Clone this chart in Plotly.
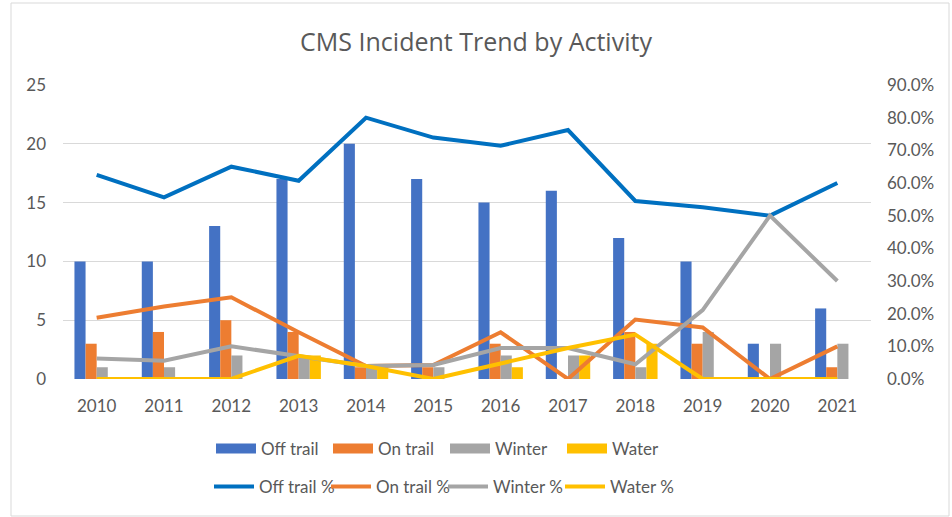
import plotly.graph_objects as go

years = ["2010", "2011", "2012", "2013", "2014", "2015", "2016", "2017", "2018", "2019", "2020", "2021"]
off_trail = [10, 10, 13, 17, 20, 17, 15, 16, 12, 10, 3, 6]
on_trail = [3, 4, 5, 4, 1, 1, 3, 0, 4, 3, 0, 1]
winter = [1, 1, 2, 2, 1, 1, 2, 2, 1, 4, 3, 3]
water = [0, 0, 0, 2, 1, 0, 1, 2, 3, 0, 0, 0]
off_trail_pct = [0.625, 0.556, 0.65, 0.607, 0.80, 0.739, 0.714, 0.762, 0.545, 0.526, 0.50, 0.60]
on_trail_pct = [0.1875, 0.222, 0.25, 0.143, 0.04, 0.043, 0.143, 0.0, 0.182, 0.158, 0.0, 0.10]
winter_pct = [0.0625, 0.056, 0.10, 0.071, 0.04, 0.043, 0.095, 0.095, 0.045, 0.211, 0.50, 0.30]
water_pct = [0.0, 0.0, 0.0, 0.071, 0.04, 0.0, 0.048, 0.095, 0.136, 0.0, 0.0, 0.0]

bar_names = ["Off trail", "On trail", "Winter", "Water"]
bar_colors = ["#4472C4", "#ED7D31", "#A5A5A5", "#FFC000"]
line_names = ["Off trail %", "On trail %", "Winter %", "Water %"]
line_colors = ["#0070C0", "#ED7D31", "#A5A5A5", "#FFC000"]

W, H = 952, 517
L, R, T, B = 63, 81, 85, 138
PW, PH = W - L - R, H - T - B

def px_x(p):
    return (p - L) / PW

def px_y(p):
    return (H - B - p) / PH

FONT = "Lato"
GREY = "#595959"

fig = go.Figure()
for name, vals, col in zip(bar_names, [off_trail, on_trail, winter, water], bar_colors):
    fig.add_trace(go.Bar(x=years, y=vals, name=name, marker=dict(color=col, line=dict(width=0)),
                         showlegend=False, yaxis="y"))
for name, vals, col in zip(line_names, [off_trail_pct, on_trail_pct, winter_pct, water_pct], line_colors):
    fig.add_trace(go.Scatter(x=years, y=vals, name=name, mode="lines",
                             line=dict(color=col, width=4), yaxis="y2", legend="legend2"))
# legend swatches for bars
for name, col in zip(bar_names, bar_colors):
    fig.add_trace(go.Scatter(x=[None], y=[None], name=name, mode="lines",
                             line=dict(color=col, width=11), yaxis="y", legend="legend",
                             hoverinfo="skip"))

fig.update_layout(
    width=W, height=H,
    margin=dict(l=L, r=R, t=T, b=B),
    paper_bgcolor="white", plot_bgcolor="white",
    font=dict(family=FONT, size=17, color=GREY),
    barmode="group", bargap=0.34, bargroupgap=0,
    title=dict(text="CMS Incident Trend by Activity", x=0.5, xanchor="center",
               y=1 - 42 / H, yanchor="middle", xref="container", yref="container",
               font=dict(family="Open Sans", size=25, color=GREY)),
    xaxis=dict(type="category", showgrid=False, showline=False, zeroline=False,
               ticks="", tickfont=dict(size=17, color=GREY), ticklabelstandoff=15),
    yaxis=dict(range=[0, 25], dtick=5, showgrid=True, gridcolor="#D9D9D9", gridwidth=1,
               zeroline=False, showline=False, ticks="", tickfont=dict(size=17, color=GREY),
               ticklabelstandoff=16),
    yaxis2=dict(range=[0, 0.9], dtick=0.1, tickformat=".1%", overlaying="y", side="right",
                showgrid=False, zeroline=False, showline=False, ticks="",
                tickfont=dict(size=17, color=GREY), ticklabelstandoff=15),
    legend=dict(orientation="h", x=px_x(211), xanchor="left", y=px_y(449), yanchor="middle",
                itemwidth=40, entrywidth=62, entrywidthmode="pixels",
                font=dict(size=17, color=GREY), bgcolor="rgba(0,0,0,0)"),
    legend2=dict(orientation="h", x=px_x(209), xanchor="left", y=px_y(487), yanchor="middle",
                 itemwidth=40, entrywidth=62, entrywidthmode="pixels",
                 font=dict(size=17, color=GREY), bgcolor="rgba(0,0,0,0)"),
    shapes=[dict(type="rect", xref="paper", yref="paper",
                 x0=px_x(11), x1=px_x(949), y0=px_y(516), y1=px_y(3),
                 line=dict(color="#D9D9D9", width=1), fillcolor="rgba(0,0,0,0)", layer="below")],
    hovermode=False,
)

fig.write_html("out.html", config={"displayModeBar": False},
               post_script="document.body.style.margin='0';")
